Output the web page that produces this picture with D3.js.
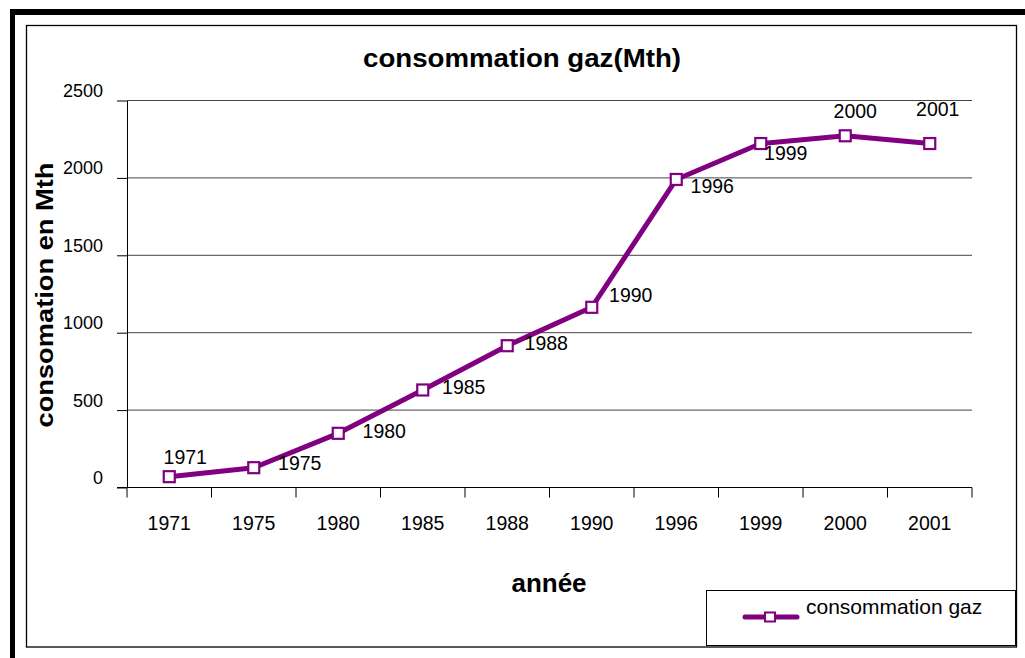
<!DOCTYPE html>
<html>
<head>
<meta charset="utf-8">
<script src="https://cdn.jsdelivr.net/npm/d3@7"></script>
<style>
  body { margin: 0; background: #fff; }
  svg { display: block; font-family: "Liberation Sans", Arial, sans-serif; }
</style>
</head>
<body>
<div id="chart"></div>
<script>
// gas consumption per year (Mth)
var years = ["1971", "1975", "1980", "1985", "1988", "1990", "1996", "1999", "2000", "2001"];
var consumption = [70, 128, 350, 630, 916, 1164, 1990, 2222, 2272, 2222];
var yTicks = [0, 500, 1000, 1500, 2000, 2500];

// where each data label sits relative to its point (Excel placed them by hand)
var labelOffsets = [[16, -19], [46, -5], [46, -2], [41, -3], [39, -3], [39, -12], [36, 7], [25, 10], [10, -25], [8, -34]];

var svgWidth = 1025;
var svgHeight = 658;
var purple = "#800080";
var font = "Liberation Sans, Arial, sans-serif";

var svg = d3.select("#chart")
  .append("svg")
  .attr("width", svgWidth)
  .attr("height", svgHeight);

svg.append("rect").attr("width", svgWidth).attr("height", svgHeight).attr("fill", "#fff");

// page frame: heavy top/left rule plus thin chart border
svg.append("rect").attr("x", 10).attr("y", 9).attr("width", svgWidth - 10).attr("height", 6).attr("fill", "#000");
svg.append("rect").attr("x", 10).attr("y", 9).attr("width", 5).attr("height", svgHeight - 9).attr("fill", "#000");
svg.append("rect")
  .attr("x", 26.5).attr("y", 25.5)
  .attr("width", 990).attr("height", 621.5)
  .attr("fill", "none").attr("stroke", "#000").attr("stroke-width", 1.3);

// scales
// ==============================
var x = d3.scaleBand()
  .domain(years)
  .range([127, 972])
  .padding(0);

var y = d3.scaleLinear()
  .domain([0, 2500])
  .range([487.5, 100.5]);

// gridlines
svg.append("g")
  .selectAll("line")
  .data(yTicks.filter(d => d > 0))
  .enter()
  .append("line")
  .attr("x1", 127).attr("x2", 972)
  .attr("y1", d => y(d)).attr("y2", d => y(d))
  .attr("stroke", "#444").attr("stroke-width", 1);

// y axis
var leftAxis = d3.axisLeft(y)
  .tickValues(yTicks)
  .tickFormat(d3.format("d"))
  .tickSize(10).tickSizeOuter(0).tickPadding(14);
var gy = svg.append("g")
  .attr("transform", "translate(127,0)")
  .call(leftAxis);
gy.select(".domain").attr("stroke", "#000");
gy.selectAll(".tick line").attr("stroke", "#000");
gy.selectAll(".tick text")
  .attr("dy", "-0.22em")
  .attr("font-size", 18)
  .attr("font-family", font)
  .attr("fill", "#000");

// x axis: ticks sit between categories, labels centred in each band
var xEdges = years.map(d => x(d)).concat([x.range()[1]]);
svg.append("line")
  .attr("x1", 117).attr("x2", 972)
  .attr("y1", y(0)).attr("y2", y(0))
  .attr("stroke", "#000");
svg.append("g")
  .selectAll("line")
  .data(xEdges)
  .enter()
  .append("line")
  .attr("x1", d => d).attr("x2", d => d)
  .attr("y1", y(0)).attr("y2", y(0) + 10)
  .attr("stroke", "#000");

var bottomAxis = d3.axisBottom(x).tickSize(0).tickPadding(29);
var gx = svg.append("g")
  .attr("transform", `translate(0, ${y(0)})`)
  .call(bottomAxis);
gx.select(".domain").remove();
gx.selectAll(".tick text")
  .attr("font-size", 19.5)
  .attr("font-family", font)
  .attr("fill", "#000");

// line + markers
// ==============================
var cx = (d, i) => x(years[i]) + x.bandwidth() / 2;

var line = d3.line()
  .x(cx)
  .y(d => y(d));

svg.append("path")
  .datum(consumption)
  .attr("d", line)
  .attr("fill", "none")
  .attr("stroke", purple)
  .attr("stroke-width", 5)
  .attr("stroke-linejoin", "round");

svg.append("g")
  .selectAll("rect")
  .data(consumption)
  .enter()
  .append("rect")
  .attr("x", (d, i) => cx(d, i) - 5.5)
  .attr("y", d => y(d) - 5.5)
  .attr("width", 11)
  .attr("height", 11)
  .attr("fill", "#fff")
  .attr("stroke", purple)
  .attr("stroke-width", 2.2);

// data labels (the year)
svg.append("g")
  .selectAll("text")
  .data(consumption)
  .enter()
  .append("text")
  .attr("x", (d, i) => cx(d, i) + labelOffsets[i][0])
  .attr("y", (d, i) => y(d) + labelOffsets[i][1])
  .attr("dy", "0.35em")
  .attr("text-anchor", "middle")
  .attr("font-size", 19.5)
  .text((d, i) => years[i]);

// titles
svg.append("text")
  .attr("x", 522).attr("y", 67)
  .attr("text-anchor", "middle")
  .attr("font-size", 26).attr("font-weight", "bold")
  .attr("textLength", 318).attr("lengthAdjust", "spacingAndGlyphs")
  .text("consommation gaz(Mth)");

svg.append("text")
  .attr("transform", "translate(53, 295) rotate(-90)")
  .attr("text-anchor", "middle")
  .attr("font-size", 24).attr("font-weight", "bold")
  .attr("textLength", 265).attr("lengthAdjust", "spacingAndGlyphs")
  .text("consomation en Mth");

svg.append("text")
  .attr("x", 549).attr("y", 592)
  .attr("text-anchor", "middle")
  .attr("font-size", 26).attr("font-weight", "bold")
  .text("année");

// legend
// ==============================
var legend = svg.append("g");
legend.append("rect")
  .attr("x", 706.5).attr("y", 590.5)
  .attr("width", 309).attr("height", 55)
  .attr("fill", "#fff").attr("stroke", "#000").attr("stroke-width", 1);
legend.append("line")
  .attr("x1", 745).attr("x2", 797)
  .attr("y1", 617).attr("y2", 617)
  .attr("stroke", purple).attr("stroke-width", 5).attr("stroke-linecap", "round");
legend.append("rect")
  .attr("x", 765).attr("y", 612.5)
  .attr("width", 10).attr("height", 9)
  .attr("fill", "#fff").attr("stroke", purple).attr("stroke-width", 2);
legend.append("text")
  .attr("x", 806).attr("y", 607)
  .attr("dy", "0.35em")
  .attr("font-size", 21)
  .text("consommation gaz");
</script>
</body>
</html>
